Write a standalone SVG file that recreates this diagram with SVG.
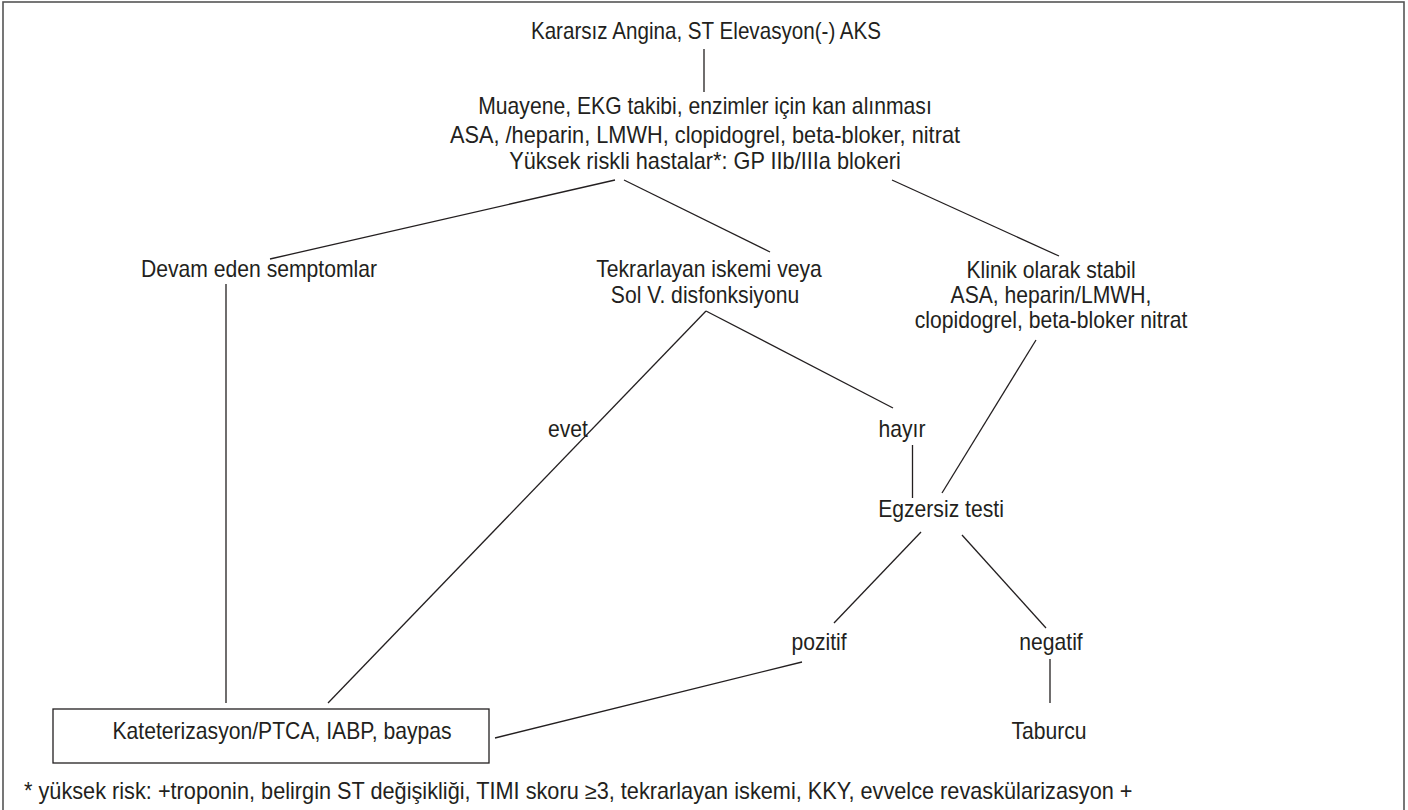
<svg xmlns="http://www.w3.org/2000/svg" width="1408" height="810" viewBox="0 0 1408 810">
<style>
  .t{font-family:"Liberation Sans",Arial,sans-serif;font-size:23px;fill:#231f20;text-anchor:middle}
  .ts{font-family:"Liberation Sans",Arial,sans-serif;font-size:23px;fill:#231f20;text-anchor:start}
  .c{stroke:#231f20;stroke-width:1.3;fill:none}
  .box{stroke:#231f20;stroke-width:1.3;fill:#fff}
</style>
<rect x="3" y="2" width="1401" height="830" fill="#fff" stroke="#555" stroke-width="1.6"/>
<g id="connectors">
  <line class="c" x1="704" y1="49" x2="704" y2="92"/>
  <line class="c" x1="615" y1="180" x2="270" y2="259"/>
  <line class="c" x1="624" y1="180" x2="770" y2="252"/>
  <line class="c" x1="892" y1="180" x2="1059" y2="256"/>
  <line class="c" x1="226" y1="284" x2="226" y2="703"/>
  <line class="c" x1="706" y1="311" x2="328" y2="703"/>
  <line class="c" x1="706" y1="311" x2="893" y2="408"/>
  <line class="c" x1="912.5" y1="445" x2="912.5" y2="498"/>
  <line class="c" x1="1036" y1="340" x2="942" y2="493"/>
  <line class="c" x1="921" y1="532" x2="834" y2="623"/>
  <line class="c" x1="962" y1="535" x2="1046" y2="628"/>
  <line class="c" x1="1050" y1="659" x2="1050" y2="703"/>
  <line class="c" x1="802" y1="662" x2="495" y2="738"/>
</g>
<g id="n-title"><text class="t" transform="translate(706 39) scale(0.897 1)">Kararsız Angina, ST Elevasyon(-) AKS</text></g>
<g id="n-muayene">
  <text class="t" transform="translate(705 114) scale(0.92 1)">Muayene, EKG takibi, enzimler için kan alınması</text>
  <text class="t" transform="translate(705 143) scale(0.946 1)">ASA, /heparin, LMWH, clopidogrel, beta-bloker, nitrat</text>
  <text class="t" transform="translate(705 169) scale(0.944 1)">Yüksek riskli hastalar*: GP IIb/IIIa blokeri</text>
</g>
<g id="n-devam"><text class="t" transform="translate(259 277) scale(0.92 1)">Devam eden semptomlar</text></g>
<g id="n-tekrar">
  <text class="t" transform="translate(709 277) scale(0.92 1)">Tekrarlayan iskemi veya</text>
  <text class="t" transform="translate(705 303) scale(0.92 1)">Sol V. disfonksiyonu</text>
</g>
<g id="n-klinik">
  <text class="t" transform="translate(1051 278) scale(0.92 1)">Klinik olarak stabil</text>
  <text class="t" transform="translate(1051 303) scale(0.92 1)">ASA, heparin/LMWH,</text>
  <text class="t" transform="translate(1051 328) scale(0.92 1)">clopidogrel, beta-bloker nitrat</text>
</g>
<g id="n-evet"><text class="t" transform="translate(568 437) scale(0.92 1)">evet</text></g>
<g id="n-hayir"><text class="t" transform="translate(902 437) scale(0.92 1)">hayır</text></g>
<g id="n-egzersiz"><text class="t" transform="translate(941 517) scale(0.92 1)">Egzersiz testi</text></g>
<g id="n-pozitif"><text class="t" transform="translate(819 650) scale(0.92 1)">pozitif</text></g>
<g id="n-negatif"><text class="t" transform="translate(1051 650) scale(0.92 1)">negatif</text></g>
<g id="n-taburcu"><text class="t" transform="translate(1049 739) scale(0.92 1)">Taburcu</text></g>
<g id="n-kateter">
  <rect class="box" x="53" y="709" width="436" height="54"/>
  <text class="t" transform="translate(282 739) scale(0.92 1)">Kateterizasyon/PTCA, IABP, baypas</text>
</g>
<g id="footnote"><text class="ts" transform="translate(24 799) scale(0.944 1)">* yüksek risk: +troponin, belirgin ST değişikliği, TIMI skoru ≥3, tekrarlayan iskemi, KKY, evvelce revaskülarizasyon +</text></g>
</svg>
